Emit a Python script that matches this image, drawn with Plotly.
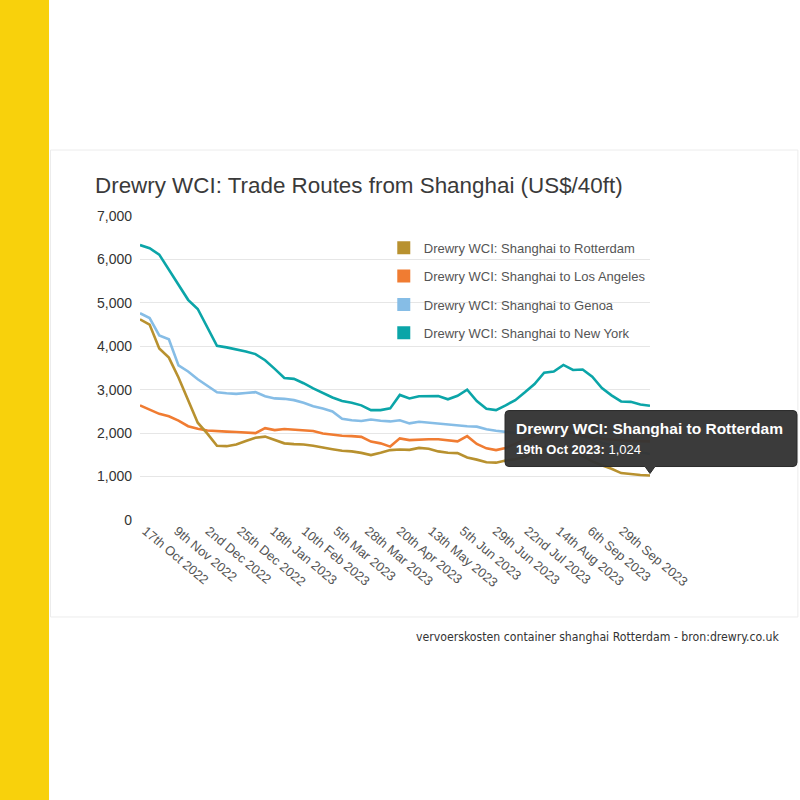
"""Drewry WCI trade routes from Shanghai, recreated with plotly."""
import pandas as pd
import plotly.graph_objects as go

# weekly WCI readings, Thursday 13 Oct 2022 .. Thursday 19 Oct 2023
dates = pd.date_range("2022-10-13", "2023-10-19", freq="7D")

rotterdam = [
    4620, 4500, 3950, 3740, 3280, 2770, 2240, 1990, 1710, 1700,
    1740, 1820, 1895, 1920, 1845, 1765, 1748, 1740, 1710, 1665,
    1630, 1595, 1580, 1545, 1495, 1550, 1610, 1625, 1615, 1660,
    1640, 1580, 1550, 1540, 1440, 1390, 1330, 1320, 1370, 1400,
    1450, 1550, 1680, 1670, 1650, 1600, 1480, 1350, 1260, 1180,
    1080, 1050, 1035, 1024,
]
los_angeles = [
    2640, 2540, 2445, 2390, 2290, 2160, 2100, 2060, 2040, 2035,
    2025, 2010, 2000, 2115, 2070, 2095, 2085, 2075, 2050, 1990,
    1960, 1940, 1932, 1915, 1805, 1765, 1690, 1880, 1840, 1858,
    1860, 1860, 1835, 1810, 1930, 1750, 1650, 1610, 1660, 1750,
    1850, 1950, 2050, 2100, 2080, 2000, 1950, 1900, 1870, 1850,
    1830, 1820, 1815, 1810,
]
genoa = [
    4760, 4650, 4250, 4160, 3560, 3420, 3240, 3100, 2940, 2920,
    2905, 2925, 2945, 2850, 2800, 2790, 2760, 2700, 2620, 2565,
    2500, 2330, 2295, 2280, 2315, 2285, 2270, 2295, 2225, 2262,
    2240, 2215, 2195, 2185, 2160, 2150, 2090, 2055, 2030, 2000,
    1980, 2000, 2050, 2080, 2060, 2010, 1930, 1850, 1780, 1720,
    1650, 1600, 1560, 1520,
]
new_york = [
    6330, 6260, 6110, 5760, 5420, 5070, 4860, 4430, 4010, 3975,
    3930, 3880, 3820, 3680, 3480, 3270, 3250, 3150, 3030, 2920,
    2820, 2740, 2700, 2640, 2530, 2530, 2570, 2880, 2800, 2850,
    2860, 2855, 2780, 2860, 3000, 2740, 2560, 2530, 2640, 2760,
    2940, 3130, 3390, 3420, 3570, 3455, 3465, 3300, 3040, 2870,
    2730, 2720, 2660, 2630,
]

series_names = [
    "Drewry WCI: Shanghai to Rotterdam",
    "Drewry WCI: Shanghai to Los Angeles",
    "Drewry WCI: Shanghai to Genoa",
    "Drewry WCI: Shanghai to New York",
]
series_colors = ["#b8912f", "#f07c32", "#86bde6", "#0ba5a8"]

tick_dates = [
    "2022-10-17", "2022-11-09", "2022-12-02", "2022-12-25", "2023-01-18",
    "2023-02-10", "2023-03-05", "2023-03-28", "2023-04-20", "2023-05-13",
    "2023-06-05", "2023-06-29", "2023-07-22", "2023-08-14", "2023-09-06",
    "2023-09-29",
]
tick_text = [
    "17th Oct 2022", "9th Nov 2022", "2nd Dec 2022", "25th Dec 2022",
    "18th Jan 2023", "10th Feb 2023", "5th Mar 2023", "28th Mar 2023",
    "20th Apr 2023", "13th May 2023", "5th Jun 2023", "29th Jun 2023",
    "22nd Jul 2023", "14th Aug 2023", "6th Sep 2023", "29th Sep 2023",
]

fig = go.Figure()

# lines first, Rotterdam last so it sits on top like the original
all_series = [rotterdam, los_angeles, genoa, new_york]
for vals, name, col in reversed(list(zip(all_series, series_names, series_colors))):
    fig.add_trace(go.Scatter(
        x=dates, y=vals, name=name, mode="lines",
        line=dict(color=col, width=2.6),
        showlegend=False,
    ))

# square swatches for the legend
for name, col in zip(series_names, series_colors):
    fig.add_trace(go.Scatter(
        x=[None], y=[None], name=name, mode="markers",
        marker=dict(symbol="square", size=13, color=col),
        legendgroup=name,
    ))

font = "Liberation Sans, Arial, sans-serif"

fig.update_layout(
    width=800, height=800,
    margin=dict(l=140, r=150, t=216, b=280),
    paper_bgcolor="white", plot_bgcolor="white",
    font=dict(family=font, color="#333333"),
    legend=dict(
        x=0.478, y=0.945, xanchor="left", yanchor="top",
        font=dict(size=13, color="#555555"),
        tracegroupgap=8.5, bgcolor="rgba(0,0,0,0)",
    ),
    xaxis=dict(
        type="date",
        range=[dates[0], dates[-1]],
        tickvals=tick_dates, ticktext=tick_text,
        tickangle=40, showgrid=False, zeroline=False, showline=False,
        tickfont=dict(size=13, color="#555555"),
    ),
    yaxis=dict(
        range=[0, 7000], dtick=1000, tickformat=",",
        gridcolor="#e6e6e6", gridwidth=1, zeroline=False, showline=False,
        tickfont=dict(size=14, color="#333333"),
        ticklabelstandoff=7,
    ),
)

# title as a free annotation so it can sit left of the plot area
fig.add_annotation(
    xref="paper", yref="paper", x=-0.092, y=1.099,
    xanchor="left", yanchor="middle", showarrow=False,
    text="Drewry WCI: Trade Routes from Shanghai (US$/40ft)",
    font=dict(size=22.4, color="#3a3a3a", family=font),
)

# yellow strip at the left and the faint frame
fig.add_shape(type="rect", xref="paper", yref="paper", layer="below",
              x0=-0.3, x1=-0.1784, y0=-1.0, y1=1.8,
              fillcolor="#f8d10c", line_width=0)
fig.add_shape(type="rect", xref="paper", yref="paper", layer="below",
              x0=-0.1755, x1=1.29, y0=-0.319, y1=1.217,
              fillcolor="rgba(0,0,0,0)", line=dict(color="#ececec", width=1))

# the hover box left on the last Rotterdam point
last_val = rotterdam[-1]
fig.add_shape(
    type="path", xref="paper", yref="y",
    xsizemode="pixel", ysizemode="pixel",
    xanchor=1, yanchor=last_val,
    path=("M -141,65 L 143,65 Q 147,65 147,61 L 147,13 Q 147,9 143,9 "
          "L 5,9 L 0,2 L -5,9 L -141,9 Q -145,9 -145,13 L -145,61 "
          "Q -145,65 -141,65 Z"),
    fillcolor="rgba(51,51,51,0.96)", line=dict(color="#2b2b2b", width=1),
)
fig.add_annotation(
    xref="paper", yref="y", x=1, y=last_val,
    xanchor="left", yanchor="middle", xshift=-136, yshift=37,
    align="left", showarrow=False,
    text=("<b>Drewry WCI: Shanghai to Rotterdam</b><br>"
          "<span style='font-size:13px'><b>19th Oct 2023:</b> "
          f"{last_val:,}</span>"),
    font=dict(size=15.5, color="white", family=font),
)

fig.add_annotation(
    xref="paper", yref="paper", x=1.257, y=-0.385,
    xanchor="right", yanchor="middle", showarrow=False,
    text="vervoerskosten container shanghai Rotterdam - bron:drewry.co.uk",
    font=dict(size=12.2, color="#333333",
              family="Liberation Sans Narrow, DejaVu Sans Condensed, sans-serif"),
)

# drop the browser's default body margin so the figure fills the window
fig.write_html(
    "out.html",
    config={"displayModeBar": False},
    post_script="document.body.style.margin='0px';",
)
